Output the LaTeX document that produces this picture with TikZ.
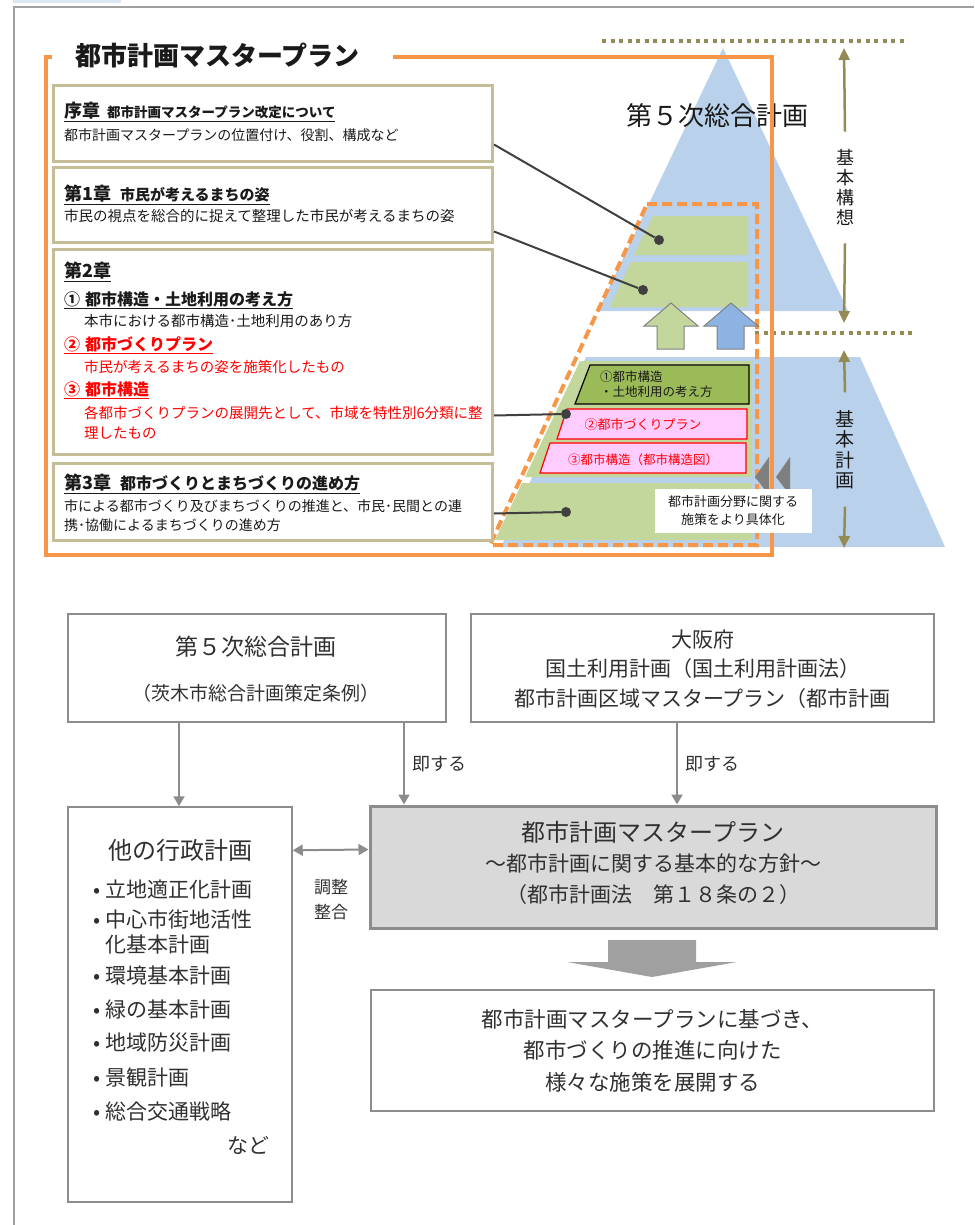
\documentclass[tikz,border=0pt]{standalone}
\usepackage{fontspec}
\setmainfont{Noto Sans CJK JP}
\usetikzlibrary{arrows.meta}
\definecolor{frameorange}{HTML}{F79646}
\definecolor{framegray}{HTML}{A0A0A0}
\definecolor{tabblue}{HTML}{DCE6F2}
\definecolor{tanbox}{HTML}{C4BD97}
\definecolor{pyrblue}{HTML}{B9D1EA}
\definecolor{laygreen}{HTML}{C3D69B}
\definecolor{darkgreen}{HTML}{9BBB59}
\definecolor{pinkbox}{HTML}{FFCCFF}
\definecolor{olive}{HTML}{948A54}
\definecolor{arrowblue}{HTML}{8DB3E2}
\definecolor{linegray}{HTML}{404040}
\definecolor{boxgray}{HTML}{8C8C8C}
\definecolor{mpfill}{HTML}{D9D9D9}
\definecolor{bigarrow}{HTML}{A0A0A0}
\definecolor{chevgray}{HTML}{7F7F7F}
\definecolor{inkblack}{HTML}{1A1A1A}
\definecolor{inkgray}{HTML}{303030}
\newcommand{\fs}[2]{\fontsize{#1}{#2}\selectfont}

\begin{document}
\begin{tikzpicture}[x=1pt,y=-1pt,
  txt/.style={anchor=west,inner sep=0pt,text=inkblack},
  redtxt/.style={txt,text=red},
  chapbox/.style={draw=tanbox,line width=3pt,fill=white,inner sep=0pt,anchor=north west,minimum width=439pt},
  conn/.style={draw=linegray,line width=2pt},
  dot/.style={circle,fill=linegray,inner sep=0pt,minimum size=10pt},
  oarrow/.style={draw=olive,line width=2.5pt,-{Triangle[width=11pt,length=12pt]}},
  odots/.style={draw=olive,line width=4pt,dash pattern=on 4pt off 4.5pt},
  planbox/.style={draw=boxgray,line width=1.5pt,fill=white,inner sep=0pt},
  garrow/.style={draw=boxgray,line width=2pt,-{Triangle[width=11pt,length=10pt]}},
  btxt/.style={inner sep=0pt,text=inkgray}]
\useasboundingbox (0,0) rectangle (974,1225);

% outer frame
\fill[tabblue] (13,0) rectangle (121,3);
\draw[framegray,line width=1.5pt] (14,1225) -- (14,7) -- (974,7);

% pyramid
\fill[pyrblue] (723,48) -- (848,311) -- (598,311) -- cycle;
\fill[pyrblue] (586,357) -- (860,357) -- (945,547) -- (501,547) -- cycle;
\node[font=\fs{26}{30},inner sep=0pt,text=inkblack] (sogo5) at (717,116) {第５次総合計画};

% levels on the right
\draw[odots] (602,41) -- (906,41);
\draw[odots] (755,333) -- (912,333);
\node[font=\fs{18}{20},align=center,inner sep=0pt,text=inkblack] (koso) at (845,187) {基\\本\\構\\想};
\node[font=\fs{19}{20.5},align=center,inner sep=0pt,text=inkblack] (keikaku) at (845,450) {基\\本\\計\\画};
\coordinate (kosoTop) at (844,48);
\coordinate (kosoBot) at (844,323);
\coordinate (keikakuTop) at (844,350);
\coordinate (keikakuBot) at (844,548);
\draw[oarrow] ([yshift=17pt]koso.north) -- (kosoTop);
\draw[oarrow] ([yshift=-18pt]koso.south) -- (kosoBot);
\draw[oarrow] ([yshift=18pt]keikaku.north) -- (keikakuTop);
\draw[oarrow] ([yshift=-17pt]keikaku.south) -- (keikakuBot);

% green layers
\fill[laygreen] (653,216) -- (748,216) -- (748,255) -- (634,255) -- cycle;
\fill[laygreen] (631,262) -- (748,262) -- (748,307) -- (610,307) -- cycle;
\fill[laygreen] (580,361) -- (752,361) -- (752,477) -- (525,477) -- cycle;
\fill[laygreen] (522,483) -- (752,483) -- (752,540) -- (495,540) -- cycle;
\draw[frameorange,line width=4pt,dash pattern=on 10pt off 5pt] (647,204) -- (757,204) -- (757,545) -- (490,545) -- cycle;

% up arrows
\draw[laygreen,fill=laygreen,draw=gray,line width=1pt] (657,349) -- (657,326) -- (644,326) -- (671,303) -- (698,326) -- (684,326) -- (684,349) -- cycle;
\draw[fill=arrowblue,draw=gray,line width=1pt] (717,349) -- (717,326) -- (704,326) -- (731,303) -- (758,326) -- (744,326) -- (744,349) -- cycle;

% plan layers
\draw[fill=darkgreen,draw=black,line width=1.2pt] (590,365) -- (749,365) -- (749,404) -- (575,404) -- cycle;
\node[txt,font=\fs{12.5}{14.5},align=left] (lay1) at (600,384) {①都市構造\\・土地利用の考え方};
\draw[fill=pinkbox,draw=red,line width=1.2pt] (567,409) -- (747,409) -- (747,439) -- (557,439) -- cycle;
\node[font=\fs{13}{15},inner sep=0pt,text=red] (lay2) at (643,425) {②都市づくりプラン};
\draw[fill=pinkbox,draw=red,line width=1.2pt] (550,443) -- (746,443) -- (746,473) -- (540,473) -- cycle;
\node[font=\fs{12.5}{15},inner sep=0pt,text=red] (lay3) at (643,460) {③都市構造（都市構造図）};

% master plan frame
\draw[frameorange,line width=4pt] (393,57) -- (772,57) -- (772,555) -- (46,555) -- (46,57) -- (52,57);
\node[txt,font=\bfseries\fs{26}{30}] (title) at (75,55) {都市計画マスタープラン};

% chevrons and note
\fill[chevgray] (755,477) -- (769,457) -- (769,495) -- cycle;
\fill[chevgray] (776,477) -- (790,457) -- (790,495) -- cycle;
\node[fill=white,minimum width=157pt,minimum height=44pt,inner sep=0pt,align=center,font=\fs{13}{18},text=inkblack] (detail) at (733,511) {都市計画分野に関する\\施策をより具体化};

% chapters
\node[chapbox,minimum height=76pt] (ch0) at (52,84) {};
\node[chapbox,minimum height=75pt] (ch1) at (52,166) {};
\node[chapbox,minimum height=205pt] (ch2) at (52,248) {};
\node[chapbox,minimum height=77pt] (ch3) at (52,462) {};

\node[txt] (ch0a) at (64,112) {\underline{\bfseries\fs{18}{20}序章\hspace{7pt}\fs{13.5}{15}都市計画マスタープラン改定について}};
\node[txt,font=\fs{14}{16}] (ch0b) at (64,135) {都市計画マスタープランの位置付け、役割、構成など};
\node[txt] (ch1a) at (64,195) {\underline{\bfseries\fs{18}{20}第1章\hspace{9pt}\fs{15}{17}市民が考えるまちの姿}};
\node[txt,font=\fs{14.5}{16}] (ch1b) at (64,216) {市民の視点を総合的に捉えて整理した市民が考えるまちの姿};
\node[txt] (ch2a) at (64,272) {\underline{\bfseries\fs{18}{20}第2章}};
\node[txt] (ch2b) at (64,300) {\underline{\bfseries\fs{16}{18}①\hspace{5pt}都市構造・土地利用の考え方}};
\node[txt,font=\fs{14.5}{16}] (ch2c) at (84,321) {本市における都市構造･土地利用のあり方};
\node[redtxt] (ch2d) at (64,345) {\underline{\bfseries\fs{16}{18}②\hspace{5pt}都市づくりプラン}};
\node[redtxt,font=\fs{14.5}{16}] (ch2e) at (84,367) {市民が考えるまちの姿を施策化したもの};
\node[redtxt] (ch2f) at (64,390) {\underline{\bfseries\fs{16}{18}③\hspace{5pt}都市構造}};
\node[redtxt,font=\fs{14.5}{16}] (ch2g) at (84,413) {各都市づくりプランの展開先として、市域を特性別6分類に整};
\node[redtxt,font=\fs{14.5}{16}] (ch2h) at (84,433) {理したもの};
\node[txt] (ch3a) at (64,484) {\underline{\bfseries\fs{18}{20}第3章\hspace{9pt}\fs{16}{18}都市づくりとまちづくりの進め方}};
\node[txt,font=\fs{14}{16}] (ch3b) at (64,506) {市による都市づくり及びまちづくりの推進と、市民･民間との連};
\node[txt,font=\fs{14}{16}] (ch3c) at (64,525) {携･協働によるまちづくりの進め方};

% chapter connectors
\node[dot] (d0) at (659,240) {};
\node[dot] (d1) at (643,290) {};
\node[dot] (d2) at (566,414) {};
\node[dot] (d3) at (566,512) {};
\draw[conn] ([yshift=-21pt]ch0.east) -- (d0);
\draw[conn] ([yshift=-26.5pt]ch1.east) -- (d1);
\draw[conn] ([yshift=-63.5pt]ch2.east) -- (d2);
\draw[conn] ([yshift=-11.5pt]ch3.east) -- (d3);

% lower chart
\node[planbox,minimum width=378pt,minimum height=108pt] (sogo) at (257,668) {};
\node[btxt,font=\fs{23}{26}] (sogoA) at (256,647) {第５次総合計画};
\node[btxt,font=\fs{19}{22}] (sogoB) at (256,693) {（茨木市総合計画策定条例）};
\node[planbox,minimum width=463pt,minimum height=108pt] (osaka) at (702.5,668) {};
\node[btxt,font=\fs{21}{29.5},align=center] (osakaA) at (702.5,669) {大阪府\\国土利用計画（国土利用計画法）\\都市計画区域マスタープラン（都市計画};
\node[planbox,minimum width=224pt,minimum height=395pt] (gyosei) at (180,1004.5) {};
\node[btxt,font=\fs{24}{27}] (gyoseiA) at (180,850) {他の行政計画};
\foreach \yy/\lbl [count=\i] in {890/立地適正化計画,919/中心市街地活性,976/環境基本計画,1010/緑の基本計画,1043/地域防災計画,1078/景観計画,1112/総合交通戦略}
  \node[btxt,anchor=west,font=\fs{21}{24}] (item\i) at (105,\yy) {\llap{•\hspace{5pt}}\lbl};
\node[btxt,anchor=west,font=\fs{21}{24}] (item2b) at (105,945) {化基本計画};
\node[btxt,anchor=east,font=\fs{21}{24}] (nado) at (270,1145) {など};
\node[draw=boxgray,fill=mpfill,line width=3pt,inner sep=0pt,minimum width=566pt,minimum height=122pt] (mp) at (653,867) {};
\node[btxt,font=\fs{24}{27}] (mpA) at (653,832) {都市計画マスタープラン};
\node[btxt,font=\fs{21}{24}] (mpB) at (653,863) {～都市計画に関する基本的な方針～};
\node[btxt,font=\fs{21}{24}] (mpC) at (653,895) {（都市計画法　第１８条の２）};
\node[planbox,minimum width=563pt,minimum height=121pt,align=center,font=\fs{21.5}{31.5},text=inkgray] (result) at (652.5,1050.5) {都市計画マスタープランに基づき、\\都市づくりの推進に向けた\\様々な施策を展開する};

\coordinate (s1) at ([xshift=-78pt]sogo.south);
\coordinate (s2) at ([xshift=147pt]sogo.south);
\coordinate (o1) at ([xshift=-25.5pt]osaka.south);
\draw[garrow] (s1) -- (s1 |- gyosei.north);
\draw[garrow] (s2) -- (s2 |- mp.north) node[midway,right,xshift=4pt,font=\fs{18}{20},text=inkgray] (soku1) {即する};
\draw[garrow] (o1) -- (o1 |- mp.north) node[midway,right,xshift=4pt,font=\fs{18}{20},text=inkgray] (soku2) {即する};
\draw[garrow,{Triangle[width=11pt,length=10pt]}-{Triangle[width=11pt,length=10pt]}] ([yshift=-44pt]gyosei.north east) -- ([yshift=-45pt]mp.north west);
\node[btxt,font=\fs{17}{25},align=center] (chosei) at (331,900) {調整\\整合};
\fill[bigarrow] (608,940) -- (696,940) -- (696,962) -- (737,962) -- (652,977) -- (567,962) -- (608,962) -- cycle;
\end{tikzpicture}
\end{document}
